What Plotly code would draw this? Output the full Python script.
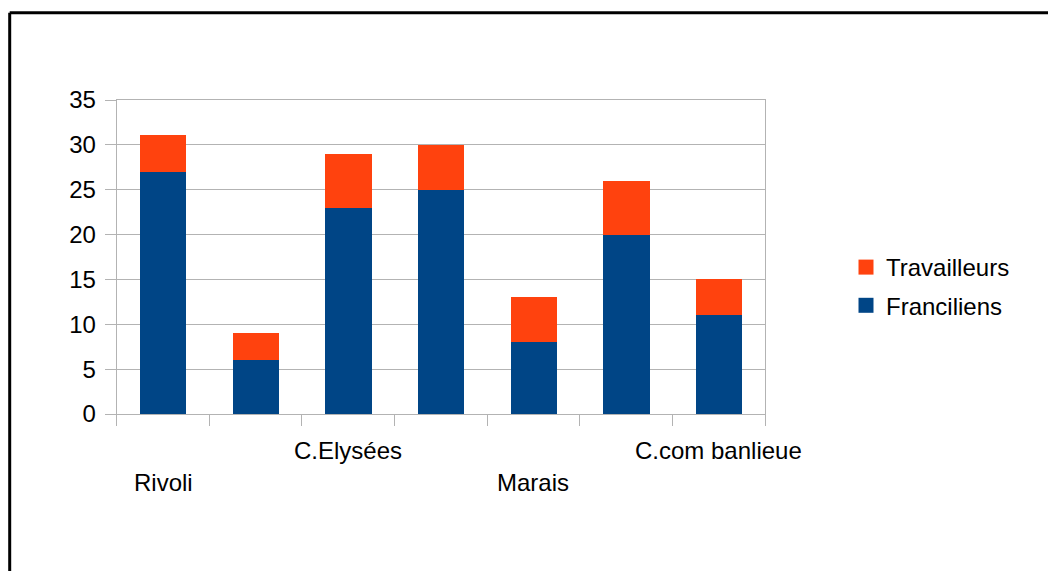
import plotly.graph_objects as go

# Data
categories = ["Rivoli", "", "C.Elysées", "", "Marais", "", "C.com banlieue"]
label_row = [1, 1, 0, 0, 1, 1, 0]  # 1 = lower row, 0 = upper row (staggered)
franciliens = [27, 6, 23, 25, 8, 20, 11]
travailleurs = [4.1, 3, 6, 5, 5, 6, 4]
y_ticks = [0, 5, 10, 15, 20, 25, 30, 35]

W, H = 1048, 571
FONT = "Liberation Sans, Arial, sans-serif"
FS = 24
BLUE = "#004586"
ORANGE = "#FF420E"

x_pos = list(range(len(categories)))

fig = go.Figure()
fig.add_trace(go.Bar(x=x_pos, y=franciliens, name="Franciliens", width=0.5,
                     marker=dict(color=BLUE, line=dict(width=0)), showlegend=False))
fig.add_trace(go.Bar(x=x_pos, y=travailleurs, name="Travailleurs", width=0.5,
                     marker=dict(color=ORANGE, line=dict(width=0)), showlegend=False))

# legend entries (square swatches)
fig.add_trace(go.Scatter(x=[None], y=[None], mode="markers", name="Travailleurs",
                         marker=dict(symbol="square", size=15, color=ORANGE, line=dict(width=0)),
                         legendgroup="t", legendrank=1))
fig.add_trace(go.Scatter(x=[None], y=[None], mode="markers", name="Franciliens",
                         marker=dict(symbol="square", size=15, color=BLUE, line=dict(width=0)),
                         legendgroup="f", legendrank=2))

# staggered category labels
for i, (c, r) in enumerate(zip(categories, label_row)):
    if not c:
        continue
    fig.add_annotation(x=i, xref="x", y=1 - (482 if r == 1 else 450.5) / H, yref="paper",
                       text=c, showarrow=False, xanchor="center", yanchor="middle",
                       font=dict(family=FONT, size=FS, color="black"))

# outer frame (partially visible)
x0 = 9.7 / W
ytop = 1 - 12.8 / H
fig.add_shape(type="line", xref="paper", yref="paper", x0=x0, x1=1.0, y0=ytop, y1=ytop,
              line=dict(color="black", width=3))
fig.add_shape(type="line", xref="paper", yref="paper", x0=x0, x1=x0, y0=ytop, y1=0,
              line=dict(color="black", width=3))

n = len(categories)
fig.update_layout(
    width=W, height=H,
    margin=dict(l=0, r=0, t=0, b=0, autoexpand=False),
    paper_bgcolor="white", plot_bgcolor="white",
    barmode="stack",
    bargap=0,
    font=dict(family=FONT, size=FS, color="black"),
    xaxis=dict(domain=[116.7 / W, 765 / W], range=[-0.5, n - 0.5], automargin=False,
               tickmode="array", tickvals=[i - 0.5 for i in range(n + 1)],
               showticklabels=False, ticks="outside", ticklen=11, tickcolor="#b3b3b3",
               tickwidth=1, showgrid=False, zeroline=False,
               showline=True, linecolor="#b3b3b3", linewidth=1, mirror=True),
    yaxis=dict(domain=[1 - 414 / H, 1 - 100 / H], range=[0, 35], automargin=False,
               tickmode="array", tickvals=y_ticks, ticktext=[str(v) for v in y_ticks],
               ticks="outside", ticklen=11, tickcolor="#b3b3b3", tickwidth=1,
               ticklabelstandoff=4,
               showgrid=True, gridcolor="#b3b3b3", gridwidth=1, zeroline=False,
               showline=True, linecolor="#b3b3b3", linewidth=1, mirror=True,
               tickfont=dict(family=FONT, size=FS, color="black")),
    legend=dict(x=846 / W, xanchor="left", y=1 - 286.5 / H, yanchor="middle",
                traceorder="grouped", tracegroupgap=4,
                font=dict(family=FONT, size=FS, color="black"),
                bgcolor="rgba(0,0,0,0)", borderwidth=0),
    showlegend=True,
)

fig.write_html("out.html", config={"displayModeBar": False},
               post_script="document.body.style.margin='0';")
